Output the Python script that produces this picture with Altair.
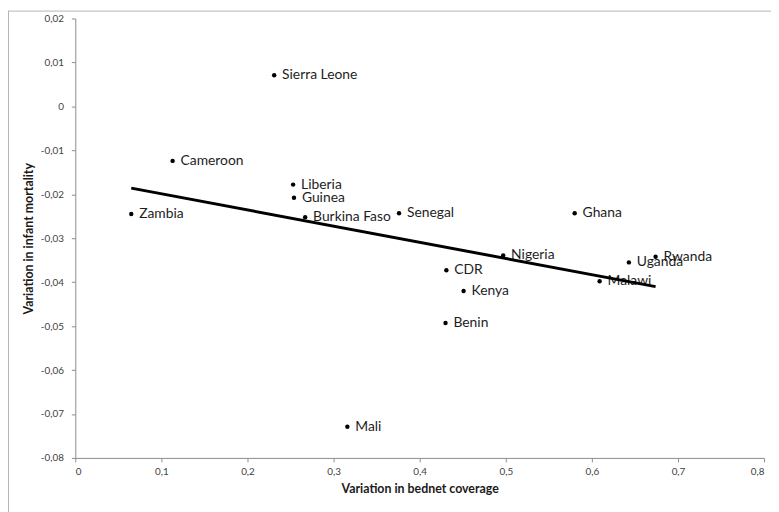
import altair as alt
import pandas as pd

countries = ["Sierra Leone", "Cameroon", "Zambia", "Liberia", "Guinea", "Burkina Faso",
             "Senegal", "Nigeria", "CDR", "Kenya", "Benin", "Ghana", "Uganda", "Rwanda",
             "Malawi", "Mali"]
bednet = [0.231, 0.113, 0.065, 0.253, 0.254, 0.267, 0.376, 0.497, 0.431, 0.451, 0.430,
          0.580, 0.643, 0.674, 0.609, 0.316]
mortality = [0.0071, -0.0124, -0.0245, -0.0178, -0.0208, -0.0252, -0.0243, -0.0339,
             -0.0373, -0.0420, -0.0493, -0.0243, -0.0355, -0.0342, -0.0398, -0.0729]
x_ticks = [0, 0.1, 0.2, 0.3, 0.4, 0.5, 0.6, 0.7, 0.8]
y_ticks = [0.02, 0.01, 0, -0.01, -0.02, -0.03, -0.04, -0.05, -0.06, -0.07, -0.08]

df = pd.DataFrame({"country": countries, "x": bednet, "y": mortality})

FONT = "Lato"
AXIS_GREY = "#8c8c8c"
label_expr = "replace(toString(datum.value), '.', ',')"

xenc = alt.X("x:Q", scale=alt.Scale(domain=[0, 0.8], nice=False),
             axis=alt.Axis(values=x_ticks, labelExpr=label_expr, grid=False,
                           title="Variation in bednet coverage", titlePadding=6,
                           labelPadding=5, tickSize=4))
yenc = alt.Y("y:Q", scale=alt.Scale(domain=[-0.08, 0.02], nice=False, zero=False),
             axis=alt.Axis(values=y_ticks, labelExpr=label_expr, grid=False,
                           title="Variation in infant mortality", titlePadding=5,
                           labelPadding=8, tickSize=4))

base = alt.Chart(df)

points = base.mark_circle(size=20, color="#000000", opacity=1).encode(x=xenc, y=yenc)

labels = base.mark_text(align="left", baseline="middle", dx=8, font=FONT, fontSize=14,
                        color="#1e1e1e").encode(x="x:Q", y="y:Q", text="country:N")

line = base.transform_regression("x", "y").mark_line(color="#000000", strokeWidth=3).encode(
    x="x:Q", y="y:Q")

frame_left = alt.Chart(pd.DataFrame({"a": [0]})).mark_rule(color="#b4b4b4", strokeWidth=1).encode(
    x=alt.value(-67.5), y=alt.value(-8), y2=alt.value(500))
frame_top = alt.Chart(pd.DataFrame({"a": [0]})).mark_rule(color="#b4b4b4", strokeWidth=1).encode(
    x=alt.value(-67.5), x2=alt.value(710), y=alt.value(-7.5))

chart = alt.layer(frame_left, frame_top, points, labels, line).properties(
    width=696, height=444,
    autosize=alt.AutoSizeParams(type="none"),
    padding={"left": 68, "top": 8, "right": 7, "bottom": 52},
).configure_view(stroke=None).configure_axis(
    domainColor=AXIS_GREY, tickColor=AXIS_GREY, labelColor="#404040",
    labelFont=FONT, labelFontSize=10, titleFont=FONT, titleFontSize=12.5,
    titleFontWeight="bold", titleColor="#1a1a1a",
)

chart.save("out.html", embed_options={"renderer": "svg", "actions": False})
